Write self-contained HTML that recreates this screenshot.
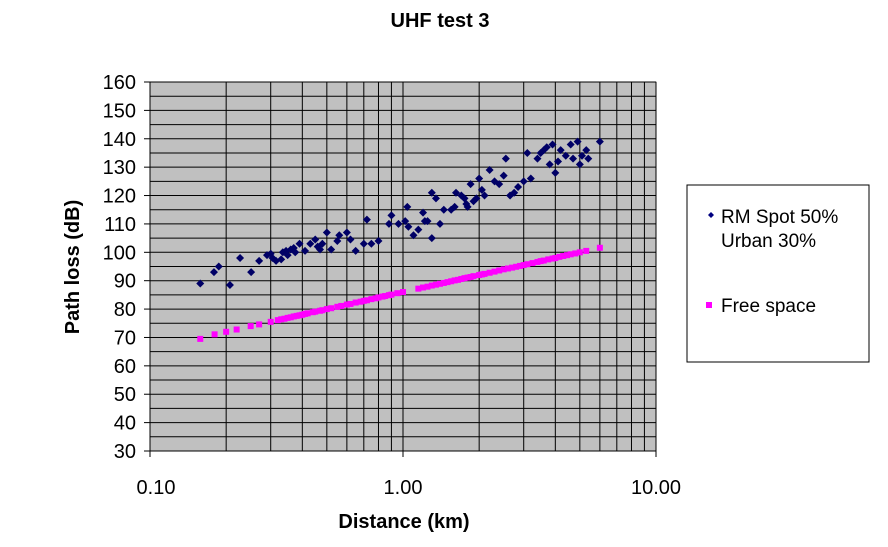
<!DOCTYPE html>
<html><head><meta charset="utf-8"><style>
body{margin:0;background:#fff;}
svg text{font-family:"Liberation Sans",Arial,sans-serif;}
</style></head><body>
<svg width="888" height="542" xmlns="http://www.w3.org/2000/svg">
<text x="440" y="27" font-size="20" font-weight="bold" text-anchor="middle">UHF test 3</text>
<g id="plot"></g>
<text transform="translate(79,267) rotate(-90)" font-size="20" font-weight="bold" text-anchor="middle">Path loss (dB)</text>
<text x="404" y="528" font-size="20" font-weight="bold" text-anchor="middle">Distance (km)</text>
<g>
<rect x="687" y="185" width="182" height="177" fill="#fff" stroke="#000" stroke-width="1"/>
<path d="M708 215 l3 -3 l3 3 l-3 3z" fill="#000080"/>
<text x="721" y="223" font-size="19">RM Spot 50%</text>
<text x="721" y="247" font-size="19">Urban 30%</text>
<rect x="706" y="302" width="6" height="6" fill="#ff00ff"/>
<text x="721" y="312" font-size="19">Free space</text>
</g>
</svg>
<script>
const yTicks=[30,40,50,60,70,80,90,100,110,120,130,140,150,160];
const xTickLabels=["0.10","1.00","10.00"];
const xTickValues=[0.1,1,10];
const rmDist=[0.158,0.179,0.187,0.207,0.227,0.251,0.27,0.29,0.3,0.305,0.315,0.33,0.335,0.345,0.35,0.36,0.37,0.375,0.39,0.41,0.43,0.45,0.46,0.47,0.48,0.5,0.52,0.55,0.56,0.6,0.62,0.65,0.7,0.72,0.75,0.8,0.88,0.9,0.96,1.02,1.04,1.05,1.1,1.15,1.2,1.22,1.25,1.3,1.3,1.35,1.4,1.45,1.55,1.6,1.62,1.7,1.75,1.78,1.8,1.85,1.9,1.95,2.0,2.05,2.1,2.2,2.3,2.4,2.5,2.55,2.65,2.75,2.85,3.0,3.1,3.2,3.4,3.5,3.6,3.7,3.8,3.9,4.0,4.1,4.2,4.4,4.6,4.7,4.9,5.0,5.1,5.3,5.4,6.0];
const rmLoss=[89,93,95,88.5,98,93,97,99,99.5,98,97,97.5,100,100.5,99,101,101.5,100,103,100.5,103,104.5,102,101,103,107,101,104,106,107,104.5,100.5,103,111.5,103,104,110,113,110,111,116,109,106,108,114,111,111,105,121,119,110,115,115,116,121,120,119,117,116,124,118,119,126,122,120,129,125,124,127,133,120,121,123,125,135,126,133,135,136,137,131,138,128,132,136,134,138,133,139,131,134,136,133,139];
const fsDist=[0.158,0.18,0.2,0.22,0.25,0.27,0.3,0.32,0.33,0.34,0.35,0.36,0.37,0.38,0.39,0.4,0.41,0.42,0.44,0.45,0.47,0.48,0.5,0.52,0.55,0.57,0.6,0.62,0.65,0.68,0.7,0.72,0.75,0.78,0.8,0.83,0.85,0.88,0.9,0.95,1.0,1.15,1.2,1.25,1.3,1.35,1.4,1.45,1.5,1.55,1.6,1.65,1.7,1.75,1.8,1.85,1.9,2.0,2.05,2.1,2.2,2.3,2.4,2.5,2.6,2.7,2.8,2.9,3.0,3.1,3.25,3.4,3.5,3.6,3.75,3.9,4.0,4.15,4.3,4.45,4.6,4.8,5.0,5.3,6.0];
const fsLoss=[69.5,71.1,72.0,72.8,74.0,74.6,75.5,76.1,76.4,76.6,76.9,77.1,77.4,77.6,77.8,78.0,78.3,78.5,78.9,79.1,79.4,79.6,80.0,80.3,80.8,81.1,81.6,81.8,82.3,82.6,82.9,83.1,83.5,83.8,84.1,84.4,84.6,84.9,85.1,85.6,86.0,87.2,87.6,87.9,88.3,88.6,88.9,89.2,89.5,89.8,90.1,90.3,90.6,90.9,91.1,91.3,91.6,92.0,92.2,92.4,92.8,93.2,93.6,94.0,94.3,94.6,94.9,95.2,95.5,95.8,96.2,96.6,96.9,97.1,97.5,97.8,98.0,98.4,98.7,99.0,99.3,99.6,100.0,100.5,101.6];
const L=150,R=656,T=82,B=451,yMin=30,yMax=160;
const sx=d=>L+(Math.log10(d)+1)/2*(R-L);
const sy=v=>B-(v-yMin)/(yMax-yMin)*(B-T);
const NS="http://www.w3.org/2000/svg";
const g=document.getElementById('plot');
function mk(t,a){const e=document.createElementNS(NS,t);for(const k in a)e.setAttribute(k,a[k]);g.appendChild(e);return e;}
const bg=mk('rect',{x:L,y:T,width:R-L,height:B-T,fill:'#c0c0c0',stroke:'#808080'});


for(let v=yMin;v<=yMax;v+=5){const y=sy(v);const l=mk('line',{x1:L,x2:R,y1:y,y2:y,stroke:'#000','stroke-width':1});

}
for(const dec of [0.1,1]){for(let m=1;m<=10;m++){const x=sx(dec*m);const l=mk('line',{x1:x,x2:x,y1:T,y2:B,stroke:'#000','stroke-width':1});

}}
mk('line',{x1:L,x2:L,y1:T,y2:B,stroke:'#000'});
mk('line',{x1:L,x2:R,y1:B,y2:B,stroke:'#000'});
yTicks.forEach(v=>{const y=sy(v);mk('line',{x1:L-6,x2:L,y1:y,y2:y,stroke:'#000'});
const t=mk('text',{x:L-14,y:y+7,'font-size':20,'text-anchor':'end'});t.textContent=v;

});
xTickValues.forEach((v,i)=>{const x=sx(v);mk('line',{x1:x,x2:x,y1:B,y2:B+6,stroke:'#000'});
const t=mk('text',{x:x+(i==0?6:0),y:494,'font-size':20,'text-anchor':'middle'});t.textContent=xTickLabels[i];

});
fsDist.forEach((d,i)=>{const x=sx(d),y=sy(fsLoss[i]);const r=mk('rect',{x:x-3,y:y-3,width:6,height:6,fill:'#ff00ff'});

});
rmDist.forEach((d,i)=>{const x=sx(d),y=sy(rmLoss[i]);const p=mk('path',{d:`M${x-4} ${y} L${x} ${y-4} L${x+4} ${y} L${x} ${y+4}Z`,fill:'#000066'});

});
</script>
</body></html>
